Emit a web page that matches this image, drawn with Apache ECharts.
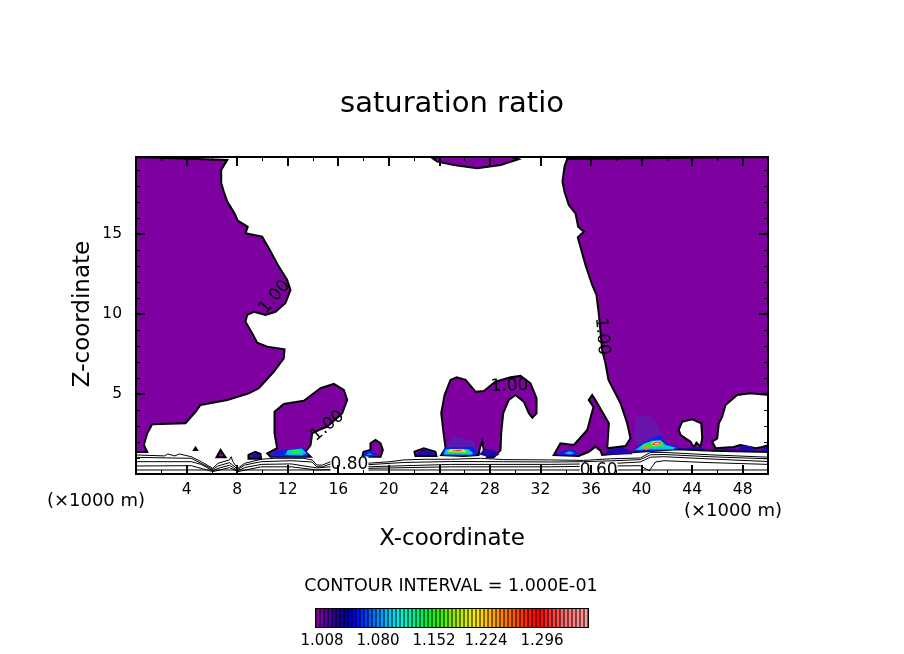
<!DOCTYPE html>
<html>
<head>
<meta charset="utf-8">
<title>saturation ratio</title>
<script src="https://cdn.jsdelivr.net/npm/echarts@6/dist/echarts.min.js"></script>
<style>
  html, body { margin: 0; padding: 0; background: #fff; }
  #chart { width: 904px; height: 654px; }
</style>
</head>
<body>
<div id="chart"></div>
<script>
// all outlines are [x (x1000 m), z (x1000 m)]
const xTickLabels = [4, 8, 12, 16, 20, 24, 28, 32, 36, 40, 44, 48]
const zTickLabels = [5, 10, 15]

// saturation ratio = 1.00 contour
const leftRegion = [[0,19.81],[7.22,19.63],[6.74,19],[6.74,18.19],[6.95,17.64],[7.22,17.02],[7.79,16.29],[8.05,15.83],[8.84,15.46],[8.66,15.04],[9.98,14.83],[10.51,14.11],[11.3,12.96],[11.96,12.13],[12.22,11.5],[11.83,10.69],[11.04,10.14],[10.25,9.94],[9.32,10.14],[8.8,9.94],[8.66,9.52],[9.19,8.79],[9.59,8.21],[10.38,7.96],[11.75,7.79],[11.69,7.23],[10.9,6.39],[9.72,5.36],[8.92,5.04],[7.22,4.63],[5.1,4.31],[4.71,3.89],[3.92,3.17],[1.28,3.11],[0.89,2.54],[0.62,1.81],[0.89,1.38],[0,1.38]]
const rightRegion = [[50,19.81],[34.11,19.69],[33.9,19.21],[33.74,18.27],[33.9,17.64],[34.24,16.81],[34.77,16.29],[34.98,15.46],[35.43,15.14],[34.95,14.79],[35.56,13.06],[36.09,11.81],[36.43,11.19],[36.61,10.04],[36.88,7.75],[37.14,6.92],[37.38,5.88],[38.33,4.42],[38.86,3.17],[39.12,2.23],[38.73,1.75],[37.28,1.61],[37.41,3.17],[36.35,4.63],[36.09,4.94],[35.82,4.63],[36.19,4.19],[35.7,2.75],[34.64,1.81],[33.58,1.92],[33.05,1.19],[35.03,1.13],[35.82,1.39],[36.35,1.71],[36.75,1.46],[36.88,1.19],[39.26,1.36],[42.82,1.54],[45.59,1.46],[49.27,1.39],[50,1.38],[50,1.81],[49.56,1.69],[49.01,1.61],[47.82,1.81],[47.27,1.69],[45.85,1.61],[45.59,2.02],[45.98,2.23],[46.11,3.17],[46.38,3.58],[46.64,4.31],[47.56,4.94],[48.61,5.04],[50,4.94]]
const holeRegion = [[42.94,2.75],[43.21,3.27],[44,3.42],[44.72,3.17],[44.8,2.23],[44.66,1.71],[44.34,1.96],[44.13,1.67],[43.87,2.02],[43.47,2.23],[43.09,2.44]]
const centreRegion = [[24.15,1.19],[24.49,1.61],[24.35,2.44],[24.15,3.79],[24.41,4.94],[24.88,5.88],[25.36,6.04],[26.07,5.88],[26.86,5.14],[27.52,5.19],[28.44,5.77],[29.63,6.04],[30.42,6.13],[31.21,5.67],[31.69,4.73],[31.69,3.79],[31.35,3.52],[31.08,3.79],[30.68,4.52],[30.02,4.94],[29.49,4.63],[29.05,3.79],[28.89,2.54],[28.84,1.5],[28.31,1.04],[27.78,1.04],[27.52,1.5],[27.39,2.02],[27.2,1.61],[27.1,1.19],[25.93,1.13]]
const humpRegion = [[10.38,1.29],[11.17,1.61],[10.96,2.54],[10.96,3.89],[11.69,4.38],[13.28,4.58],[14.6,5.36],[15.65,5.63],[16.44,5.25],[16.71,4.63],[16.31,3.79],[15.13,2.96],[14.46,2.75],[13.94,2.54],[13.81,1.81],[13.41,1.39],[13.81,1.08],[10.64,1.08]]
const topRegion = [[23.43,19.75],[23.83,19.52],[25.14,19.31],[26.99,19.11],[28.84,19.31],[30.28,19.67],[29.79,19.81],[24.09,19.81]]
const islandA = [[4.71,1.77],[4.45,1.44],[4.97,1.44]]
const islandB = [[6.69,1.5],[7.08,1.04],[6.37,1.04]]
const islandC = [[8.9,1.19],[9.43,1.39],[9.85,1.25],[9.9,0.95],[8.9,0.95]]
const islandD = [[17.9,1.08],[18,1.39],[18.55,1.5],[18.55,1.92],[18.95,2.13],[19.35,1.92],[19.53,1.5],[19.35,1.08]]
const islandE = [[22.03,1.39],[22.77,1.61],[23.69,1.39],[23.77,1.13],[22.11,1.13]]

// levels just above 1.00
const plumeRight = [[39.5,3.56],[40.7,3.69],[41.25,3.06],[41.65,2.44],[39.9,1.81],[39.35,2.13]]
const plumeCentre = [[24.5,1.6],[25,2.3],[26,2.2],[26.8,2],[27,1.5]]
const navyPatches = [
  [[8.95,1.02],[9.4,1.3],[9.8,1.2],[9.85,1.0]],
  [[22.1,1.18],[22.75,1.55],[23.65,1.35],[23.72,1.18]],
  [[27.15,1.22],[27.5,1.55],[28.3,1.5],[28.75,1.2],[28.3,1.08],[27.8,1.08]],
  [[36.95,1.22],[37.5,1.55],[38.5,1.65],[39.25,1.4],[39.25,1.24],[38,1.2]],
  [[42.8,1.56],[44.3,1.68],[45.5,1.52],[45.5,1.48],[42.8,1.58]],
  [[45.9,1.5],[47.5,1.6],[47.5,1.45],[45.9,1.48]],
  [[47.55,1.45],[47.9,1.75],[48.6,1.75],[49.1,1.5],[49.1,1.42],[47.55,1.42]],
  [[49.4,1.45],[50,1.78],[50,1.42]]
]
const bluePatches = [
  [[10.7,1.1],[10.9,1.42],[13.2,1.65],[13.6,1.3],[13.6,1.1]],
  [[24.2,1.15],[24.4,1.65],[26.6,1.7],[27,1.4],[26.9,1.15]],
  [[33.2,1.22],[33.7,1.4],[34.5,1.55],[34.95,1.3],[34.95,1.16]],
  [[39.2,1.38],[40,1.9],[40.8,2.23],[41.5,2.44],[41.9,1.9],[42.9,1.7],[42.9,1.53]],
  [[18,1.1],[18.05,1.36],[18.6,1.48],[19,1.3],[18.9,1.1]]
]
const cyanPatches = [
  [[11.8,1.2],[12,1.5],[13.1,1.6],[13.5,1.3],[13.1,1.15]],
  [[24.35,1.22],[24.5,1.55],[26.3,1.55],[26.7,1.3],[26.5,1.2]],
  [[33.9,1.3],[34.3,1.42],[34.7,1.3],[34.3,1.22]],
  [[39.5,1.5],[40.2,1.9],[40.8,2.08],[41.5,2.13],[41.9,1.81],[42.7,1.65],[42.5,1.53],[40.7,1.53]],
  [[18.2,1.2],[18.5,1.3],[18.7,1.2]]
]
const greenPatches = [
  [[12.2,1.3],[12.4,1.5],[13,1.5],[13.1,1.3]],
  [[24.55,1.3],[24.7,1.55],[26.1,1.55],[26.4,1.32]],
  [[39.9,1.6],[40.15,1.88],[40.85,2.02],[41.6,2.02],[41.9,1.75],[41.25,1.67]]
]
const yellowPatches = [
  [[24.7,1.38],[24.85,1.56],[25.9,1.54],[26.15,1.36]],
  [[40.75,1.92],[40.96,2.06],[41.36,2.06],[41.63,1.92],[41.36,1.75],[40.96,1.75]]
]
const orangePatches = [[[40.2,1.7],[40.55,1.75],[40.55,1.55],[40.2,1.55]]]
const redPatches = [
  [[24.9,1.44],[25.6,1.52],[25.85,1.44],[25.2,1.42]],
  [[40.85,1.9],[41.1,2.02],[41.45,2],[41.55,1.9],[41.3,1.78],[40.95,1.82]]
]
const peakPatch = [[41,1.9],[41.15,1.96],[41.4,1.94],[41.4,1.86],[41.1,1.85]]

// contour lines near the ground, 0.9 down to 0.5
const lineA = [[0,1.19],[2.25,1.13],[2.52,1.25],[3.05,1.13],[3.44,1.25],[4.37,1.08],[5.16,.77],[6.08,.35],[6.48,.67],[7.4,.88],[7.53,1.08],[7.66,.77],[8.06,.35],[8.6,.67],[9.9,.92],[10.96,.98],[12.28,.98],[13.28,.98],[13.94,.88],[14.3,.56],[14.75,.56],[15.4,.77],[18.3,.67],[20.1,.77],[21.2,.88],[22.8,.92],[24.9,.92],[27.25,.98],[29.1,.9],[32.8,.88],[35.4,.85],[37.54,.95],[39.9,1],[40.7,1.35],[41.76,1.35],[45.4,1.2],[50,1.05]]
const lineB = [[0,1.04],[4.37,.98],[6.08,.29],[6.48,.5],[7.4,.71],[8.06,.29],[8.6,.56],[9.9,.77],[12.28,.83],[13.94,.75],[14.3,.45],[14.75,.45],[15.4,.63],[18.3,.58],[21.2,.72],[24.9,.78],[29.1,.77],[32.8,.75],[35.4,.77],[37.54,.82],[39.9,.9],[40.7,1.2],[41.76,1.22],[45.4,1.08],[50,.95]]
const lineC = [[0,.77],[4.37,.77],[5.16,.6],[6.08,.2],[6.48,.35],[7.4,.55],[8.06,.2],[8.6,.4],[9.9,.6],[12.28,.63],[14.3,.38],[15.4,.45],[18.3,.45],[24.9,.6],[32.8,.6],[37.54,.65],[39.9,.75],[40.7,1.05],[41.76,1.08],[45.4,.94],[50,.78]]
const lineD = [[0,.5],[4.37,.52],[6.08,.15],[7.4,.4],[8.06,.15],[9.9,.45],[12.28,.45],[14.3,.25],[18.3,.35],[24.9,.45],[32.8,.45],[37.54,.5],[39.9,.52],[40.6,.2],[41.1,.75],[41.76,.83],[45.4,.71],[50,.6]]
const lineE = [[0,.25],[12,.25],[24.9,.25],[39.5,.25],[41.2,.25],[50,.25]]

// contour labels: x, z, text, angle
const highLabels = [[10.96,11.06,'1.00',50],[36.87,8.6,'1.00',-85],[29.55,5.5,'1.00',2],[15.15,3,'1.00',40]]
const lowLabels = [[16.89,.56,'0.80',0],[36.6,.19,'0.60',0]]

const barColors = ['#8000a0','#7000a8','#5c00a0','#4800a0','#300090','#200090','#100090','#0000a0','#0000c0','#0000e0','#0010ff','#0028ff','#0040ff','#0058ff','#0070ff','#0088ff','#00a0ff','#00b8ff','#00c8f8','#00d8f0','#00e8e8','#00f0d8','#00f0c0','#00f0a8','#00f090','#00f078','#00f060','#00f048','#10f030','#20f020','#30f010','#48f000','#60f000','#78f000','#90f000','#a8f000','#c0f000','#d0f000','#e0f000','#f0f000','#f8e800','#ffd800','#ffc800','#ffb800','#ffa800','#ff9800','#ff8800','#ff7800','#ff6800','#ff5800','#ff4800','#ff3800','#ff2800','#ff1800','#ff0800','#ff0000','#ff1010','#ff2020','#ff3030','#ff4040','#ff5050','#ff6060','#ff7070','#ff7878','#ff8080','#ff8888','#ff9090','#ff9898']
const barTickIndex = [1, 15, 29, 42, 56]
const barTickLabels = ['1.008', '1.080', '1.152', '1.224', '1.296']

const FONT = '"DejaVu Sans", sans-serif'
const PURPLE = '#7e00a1'

const polygonSeries = (points, color, stroke) => ({
  type: 'custom',
  coordinateSystem: 'cartesian2d',
  xAxisIndex: 0,
  yAxisIndex: 0,
  z: 2,
  silent: true,
  data: [points[0]],
  renderItem: (params, api) => ({
    type: 'polygon',
    shape: { points: points.map(p => api.coord(p)) },
    style: { fill: color, stroke: stroke ? '#000' : null, lineWidth: stroke ? 2 : 0 }
  })
})

const lineSeries = points => ({
  type: 'line',
  xAxisIndex: 0,
  yAxisIndex: 0,
  z: 3,
  silent: true,
  symbol: 'none',
  lineStyle: { color: '#000', width: 1 },
  data: points
})

const labelSeries = (labels, masked) => ({
  type: 'custom',
  coordinateSystem: 'cartesian2d',
  xAxisIndex: 0,
  yAxisIndex: 0,
  z: 5,
  silent: true,
  clip: false,
  data: labels,
  renderItem: (params, api) => {
    const item = labels[params.dataIndex]
    const pos = api.coord([item[0], item[1]])
    return {
      type: 'text',
      x: pos[0],
      y: pos[1],
      rotation: item[3] * Math.PI / 180,
      style: {
        text: item[2],
        fontFamily: FONT,
        fontSize: 17,
        fill: '#000',
        align: 'center',
        verticalAlign: 'middle',
        backgroundColor: masked ? '#fff' : null
      }
    }
  }
})

const plotAxis = (position, kind, interval, tickLength, labels) => {
  const isX = kind === 'x'
  return {
    type: 'value',
    gridIndex: 0,
    position,
    min: 0,
    max: isX ? 50 : 19.81,
    interval,
    z: 10,
    silent: true,
    splitLine: { show: false },
    axisLine: { show: true, onZero: false, lineStyle: { color: '#000', width: 2 } },
    axisTick: { show: true, inside: true, length: tickLength, lineStyle: { color: '#000', width: tickLength > 5 ? 2 : 1 } },
    axisLabel: labels
      ? {
          show: true,
          color: '#000',
          fontFamily: FONT,
          fontSize: 15.5,
          margin: isX ? 8 : 14,
          formatter: v => (labels.includes(v) ? String(v) : '')
        }
      : { show: false }
  }
}

const textBlock = (text, x, y, size, rotation) => ({
  type: 'text',
  x,
  y,
  rotation: rotation || 0,
  silent: true,
  style: { text, fontFamily: FONT, fontSize: size, fill: '#000', align: 'center', verticalAlign: 'middle' }
})

const regions = [leftRegion, rightRegion, centreRegion, humpRegion, topRegion, islandB, islandC, islandD, islandE]

const chart = echarts.init(document.getElementById('chart'), null, { renderer: 'canvas' })

chart.setOption({
  animation: false,
  backgroundColor: '#fff',
  grid: [
    { left: 136, top: 157, width: 632, height: 317 },
    { left: 316, top: 609, width: 272, height: 18, show: true, backgroundColor: '#000', borderColor: '#000', borderWidth: 2 }
  ],
  xAxis: [
    plotAxis('bottom', 'x', 4, 9, xTickLabels),
    plotAxis('top', 'x', 4, 9),
    plotAxis('bottom', 'x', 2, 4),
    plotAxis('top', 'x', 2, 4),
    {
      type: 'category',
      gridIndex: 1,
      data: barColors,
      axisLine: { show: false },
      axisTick: { show: false },
      axisLabel: {
        interval: 0,
        color: '#000',
        fontFamily: FONT,
        fontSize: 15,
        margin: 7,
        formatter: (v, i) => {
          const at = barTickIndex.indexOf(i)
          return at < 0 ? '' : barTickLabels[at]
        }
      }
    }
  ],
  yAxis: [
    plotAxis('left', 'y', 5, 9, zTickLabels),
    plotAxis('right', 'y', 5, 9),
    plotAxis('left', 'y', 1, 4),
    plotAxis('right', 'y', 1, 4),
    { type: 'value', gridIndex: 1, min: 0, max: 1, show: false }
  ],
  series: [
    ...regions.map(r => polygonSeries(r, PURPLE, true)),
    polygonSeries(holeRegion, '#fff', true),
    polygonSeries(islandA, '#000', false),
    polygonSeries(plumeRight, '#6a14ac', false),
    polygonSeries(plumeCentre, '#5c18b0', false),
    ...navyPatches.map(p => polygonSeries(p, '#2008a8', false)),
    ...bluePatches.map(p => polygonSeries(p, '#0a20e8', false)),
    ...cyanPatches.map(p => polygonSeries(p, '#00c8e8', false)),
    ...greenPatches.map(p => polygonSeries(p, '#20e850', false)),
    ...yellowPatches.map(p => polygonSeries(p, '#e8e800', false)),
    ...orangePatches.map(p => polygonSeries(p, '#ff8800', false)),
    ...redPatches.map(p => polygonSeries(p, '#ff2020', false)),
    polygonSeries(peakPatch, '#fff', false),
    ...[lineA, lineB, lineC, lineD, lineE].map(lineSeries),
    labelSeries(highLabels, false),
    labelSeries(lowLabels, true),
    {
      type: 'bar',
      xAxisIndex: 4,
      yAxisIndex: 4,
      barWidth: 3,
      silent: true,
      data: barColors.map(c => ({ value: 1, itemStyle: { color: c } }))
    }
  ],
  graphic: [
    textBlock('saturation ratio', 452, 104, 29),
    textBlock('X-coordinate', 452, 539, 23),
    textBlock('Z-coordinate', 83, 314, 23, Math.PI / 2),
    textBlock('(\u00d71000 m)', 96, 501, 18),
    textBlock('(\u00d71000 m)', 733, 511, 18),
    textBlock('CONTOUR INTERVAL = 1.000E-01', 451, 586, 17.5)
  ]
})
</script>
</body>
</html>
